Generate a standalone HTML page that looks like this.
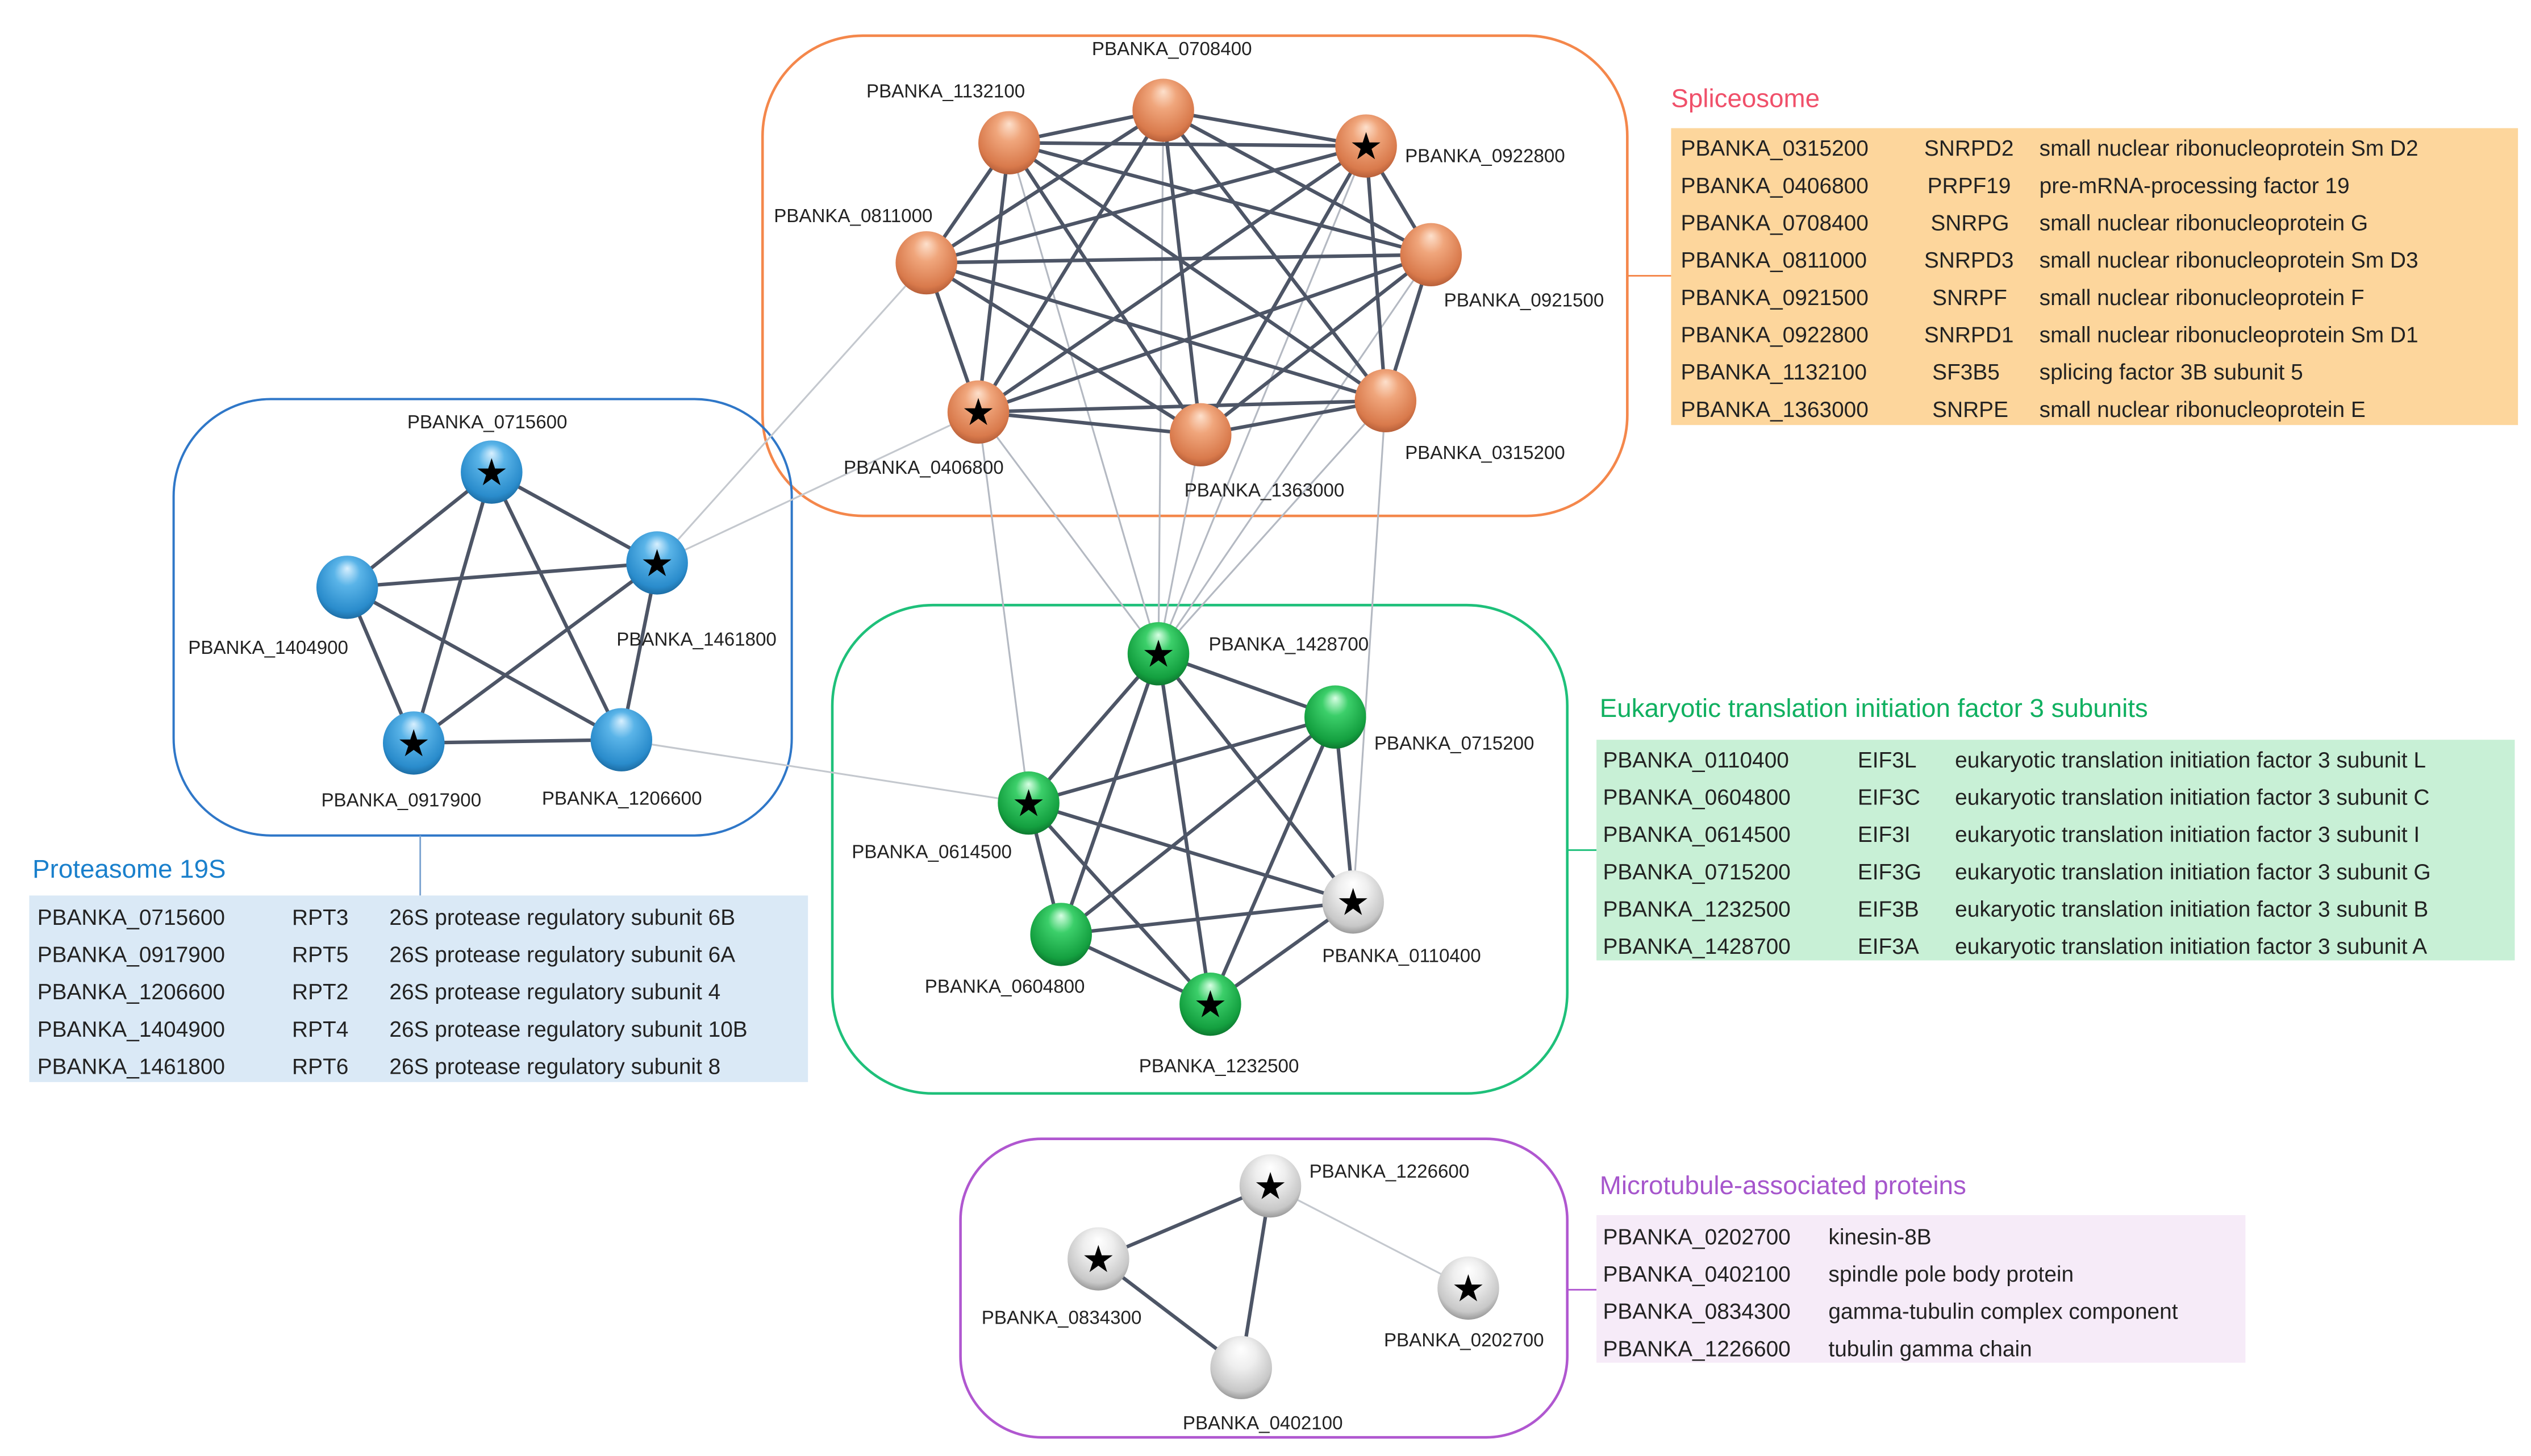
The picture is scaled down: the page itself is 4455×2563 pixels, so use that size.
<!DOCTYPE html>
<html><head><meta charset="utf-8"><style>
html,body{margin:0;padding:0;background:#fff;width:4455px;height:2563px;overflow:hidden}
svg{display:block}
.lb{font-family:"Liberation Sans",Arial,sans-serif;font-size:11.6px;fill:#222}
.tb{font-family:"Liberation Sans",Arial,sans-serif;font-size:13.6px;fill:#222}
.tt{font-family:"Liberation Sans",Arial,sans-serif;font-size:16px}
</style></head><body>
<svg id="s" width="4455" height="2563" viewBox="0 0 1560 897.5" xmlns="http://www.w3.org/2000/svg">
<defs>
<radialGradient id="go" cx="50%" cy="40%" r="60%" fx="50%" fy="20%"><stop offset="0" stop-color="#fde0cc"/><stop offset="0.35" stop-color="#f0a67c"/><stop offset="0.85" stop-color="#d97a4c"/><stop offset="1" stop-color="#b8603a"/></radialGradient>
<radialGradient id="gb" cx="50%" cy="40%" r="60%" fx="50%" fy="20%"><stop offset="0" stop-color="#d8f0ff"/><stop offset="0.35" stop-color="#5ab4e8"/><stop offset="0.85" stop-color="#2a8ccc"/><stop offset="1" stop-color="#1d6ea6"/></radialGradient>
<radialGradient id="gg" cx="50%" cy="40%" r="60%" fx="50%" fy="20%"><stop offset="0" stop-color="#d8ffe4"/><stop offset="0.35" stop-color="#3ccf6a"/><stop offset="0.85" stop-color="#14a040"/><stop offset="1" stop-color="#0d7a30"/></radialGradient>
<radialGradient id="gw" cx="50%" cy="40%" r="60%" fx="50%" fy="20%"><stop offset="0" stop-color="#ffffff"/><stop offset="0.4" stop-color="#eeeeee"/><stop offset="0.85" stop-color="#c8c8c8"/><stop offset="1" stop-color="#9a9a9a"/></radialGradient>
</defs>
<!-- boxes -->
<rect x="470" y="22" width="533" height="296" rx="62" fill="none" stroke="#f4874b" stroke-width="1.6"/>
<rect x="107" y="246" width="381" height="269" rx="60" fill="none" stroke="#2f77c8" stroke-width="1.4"/>
<rect x="513" y="373" width="453" height="301" rx="62" fill="none" stroke="#1ec07a" stroke-width="1.6"/>
<rect x="592" y="702" width="374" height="184" rx="50" fill="none" stroke="#b057d0" stroke-width="1.6"/>
<!-- connectors -->
<line x1="1003" y1="170" x2="1030" y2="170" stroke="#f4874b" stroke-width="1"/>
<line x1="259" y1="515" x2="259" y2="552" stroke="#7aa2d0" stroke-width="1"/>
<line x1="966" y1="524" x2="984" y2="524" stroke="#1ec07a" stroke-width="1"/>
<line x1="966" y1="795" x2="984" y2="795" stroke="#b057d0" stroke-width="1"/>
<g id="edges"></g>
<g id="nodes"></g>
<!-- node labels -->
<text class="lb" x="673" y="34">PBANKA_0708400</text>
<text class="lb" x="534" y="60">PBANKA_1132100</text>
<text class="lb" x="866" y="100">PBANKA_0922800</text>
<text class="lb" x="477" y="137">PBANKA_0811000</text>
<text class="lb" x="890" y="189">PBANKA_0921500</text>
<text class="lb" x="520" y="292">PBANKA_0406800</text>
<text class="lb" x="730" y="306">PBANKA_1363000</text>
<text class="lb" x="866" y="283">PBANKA_0315200</text>
<text class="lb" x="251" y="264">PBANKA_0715600</text>
<text class="lb" x="116" y="403">PBANKA_1404900</text>
<text class="lb" x="380" y="398">PBANKA_1461800</text>
<text class="lb" x="198" y="497">PBANKA_0917900</text>
<text class="lb" x="334" y="496">PBANKA_1206600</text>
<text class="lb" x="745" y="401">PBANKA_1428700</text>
<text class="lb" x="847" y="462">PBANKA_0715200</text>
<text class="lb" x="525" y="529">PBANKA_0614500</text>
<text class="lb" x="815" y="593">PBANKA_0110400</text>
<text class="lb" x="570" y="612">PBANKA_0604800</text>
<text class="lb" x="702" y="661">PBANKA_1232500</text>
<text class="lb" x="807" y="726">PBANKA_1226600</text>
<text class="lb" x="605" y="816">PBANKA_0834300</text>
<text class="lb" x="853" y="830">PBANKA_0202700</text>
<text class="lb" x="729" y="881">PBANKA_0402100</text>
<!-- Spliceosome table -->
<text class="tt" x="1030" y="66" fill="#f0506a">Spliceosome</text>
<rect x="1030" y="79" width="522" height="183" fill="#fdd69c"/>
<g class="tb">
<text x="1036" y="96">PBANKA_0315200</text><text x="1186" y="96">SNRPD2</text><text x="1257" y="96">small nuclear ribonucleoprotein Sm D2</text>
<text x="1036" y="119">PBANKA_0406800</text><text x="1188" y="119">PRPF19</text><text x="1257" y="119">pre-mRNA-processing factor 19</text>
<text x="1036" y="142">PBANKA_0708400</text><text x="1190" y="142">SNRPG</text><text x="1257" y="142">small nuclear ribonucleoprotein G</text>
<text x="1036" y="165">PBANKA_0811000</text><text x="1186" y="165">SNRPD3</text><text x="1257" y="165">small nuclear ribonucleoprotein Sm D3</text>
<text x="1036" y="188">PBANKA_0921500</text><text x="1191" y="188">SNRPF</text><text x="1257" y="188">small nuclear ribonucleoprotein F</text>
<text x="1036" y="211">PBANKA_0922800</text><text x="1186" y="211">SNRPD1</text><text x="1257" y="211">small nuclear ribonucleoprotein Sm D1</text>
<text x="1036" y="234">PBANKA_1132100</text><text x="1191" y="234">SF3B5</text><text x="1257" y="234">splicing factor 3B subunit 5</text>
<text x="1036" y="257">PBANKA_1363000</text><text x="1191" y="257">SNRPE</text><text x="1257" y="257">small nuclear ribonucleoprotein E</text>
</g>
<!-- EIF3 table -->
<text class="tt" x="986" y="442" fill="#10b060">Eukaryotic translation initiation factor 3 subunits</text>
<rect x="984" y="456" width="566" height="136" fill="#c8f0d6"/>
<g class="tb">
<text x="988" y="473">PBANKA_0110400</text><text x="1145" y="473">EIF3L</text><text x="1205" y="473">eukaryotic translation initiation factor 3 subunit L</text>
<text x="988" y="496">PBANKA_0604800</text><text x="1145" y="496">EIF3C</text><text x="1205" y="496">eukaryotic translation initiation factor 3 subunit C</text>
<text x="988" y="519">PBANKA_0614500</text><text x="1145" y="519">EIF3I</text><text x="1205" y="519">eukaryotic translation initiation factor 3 subunit I</text>
<text x="988" y="542">PBANKA_0715200</text><text x="1145" y="542">EIF3G</text><text x="1205" y="542">eukaryotic translation initiation factor 3 subunit G</text>
<text x="988" y="565">PBANKA_1232500</text><text x="1145" y="565">EIF3B</text><text x="1205" y="565">eukaryotic translation initiation factor 3 subunit B</text>
<text x="988" y="588">PBANKA_1428700</text><text x="1145" y="588">EIF3A</text><text x="1205" y="588">eukaryotic translation initiation factor 3 subunit A</text>
</g>
<!-- Proteasome table -->
<text class="tt" x="20" y="541" fill="#1a80cc">Proteasome 19S</text>
<rect x="18" y="552" width="480" height="115" fill="#dae9f6"/>
<g class="tb">
<text x="23" y="570">PBANKA_0715600</text><text x="180" y="570">RPT3</text><text x="240" y="570">26S protease regulatory subunit 6B</text>
<text x="23" y="593">PBANKA_0917900</text><text x="180" y="593">RPT5</text><text x="240" y="593">26S protease regulatory subunit 6A</text>
<text x="23" y="616">PBANKA_1206600</text><text x="180" y="616">RPT2</text><text x="240" y="616">26S protease regulatory subunit 4</text>
<text x="23" y="639">PBANKA_1404900</text><text x="180" y="639">RPT4</text><text x="240" y="639">26S protease regulatory subunit 10B</text>
<text x="23" y="662">PBANKA_1461800</text><text x="180" y="662">RPT6</text><text x="240" y="662">26S protease regulatory subunit 8</text>
</g>
<!-- Microtubule table -->
<text class="tt" x="986" y="736" fill="#a656cc">Microtubule-associated proteins</text>
<rect x="984" y="749" width="400" height="91" fill="#f6ebf8"/>
<g class="tb">
<text x="988" y="767">PBANKA_0202700</text><text x="1127" y="767">kinesin-8B</text>
<text x="988" y="790">PBANKA_0402100</text><text x="1127" y="790">spindle pole body protein</text>
<text x="988" y="813">PBANKA_0834300</text><text x="1127" y="813">gamma-tubulin complex component</text>
<text x="988" y="836">PBANKA_1226600</text><text x="1127" y="836">tubulin gamma chain</text>
</g>
</svg>
<script>
var N={o1:[717,68],o2:[622,88],o3:[842,90],o4:[571,162],o5:[882,157],o6:[603,254],o7:[740,268],o8:[854,247],
b1:[303,291],b2:[405,347],b3:[214,362],b4:[255,458],b5:[383,456],
g1:[714,403],g2:[823,442],g3:[634,495],g4:[834,556],g5:[654,576],g6:[746,619],
m1:[783,731],m2:[677,776],m3:[905,794],m4:[765,843]};
var E=document.getElementById('edges'),ns="http://www.w3.org/2000/svg";
function L(a,b,c,w){var l=document.createElementNS(ns,'line');l.setAttribute('x1',N[a][0]);l.setAttribute('y1',N[a][1]);l.setAttribute('x2',N[b][0]);l.setAttribute('y2',N[b][1]);l.setAttribute('stroke',c);l.setAttribute('stroke-width',w);E.appendChild(l);}
['o6','o2','o1','o7','o3','o5','o8'].forEach(function(k){L('g1',k,'#b4b9c2',1.1)});
L('g3','o6','#b4b9c2',1.1);L('g4','o8','#b4b9c2',1.1);L('b2','o4','#c4c8ce',1.1);L('b2','o6','#c4c8ce',1.1);L('b5','g3','#c4c8ce',1.1);L('m1','m3','#c4c8ce',1.1);
function K(p,n){for(var i=1;i<=n;i++)for(var j=i+1;j<=n;j++)L(p+i,p+j,'#4d5566',2.2);}
K('o',8);K('b',5);K('g',6);L('m1','m2','#4d5566',2.2);L('m1','m4','#4d5566',2.2);L('m2','m4','#4d5566',2.2);
var G=document.getElementById('nodes');
var st={o3:1,o6:1,b1:1,b2:1,b4:1,g1:1,g3:1,g4:1,g6:1,m1:1,m2:1,m3:1};
var fl={o:'url(#go)',b:'url(#gb)',g:'url(#gg)',m:'url(#gw)'};
for(var k in N){var f=fl[k[0]];if(k=='g4')f='url(#gw)';
var e=document.createElementNS(ns,'ellipse');e.setAttribute('cx',N[k][0]);e.setAttribute('cy',N[k][1]);e.setAttribute('rx',19);e.setAttribute('ry',19.5);e.setAttribute('fill',f);G.appendChild(e);
if(st[k]){var t=document.createElementNS(ns,'text');t.setAttribute('x',N[k][0]);t.setAttribute('y',N[k][1]+8);t.setAttribute('text-anchor','middle');t.setAttribute('font-size','23');t.setAttribute('font-family','DejaVu Sans,sans-serif');t.textContent='\u2605';G.appendChild(t);}}
</script>
</body></html>
